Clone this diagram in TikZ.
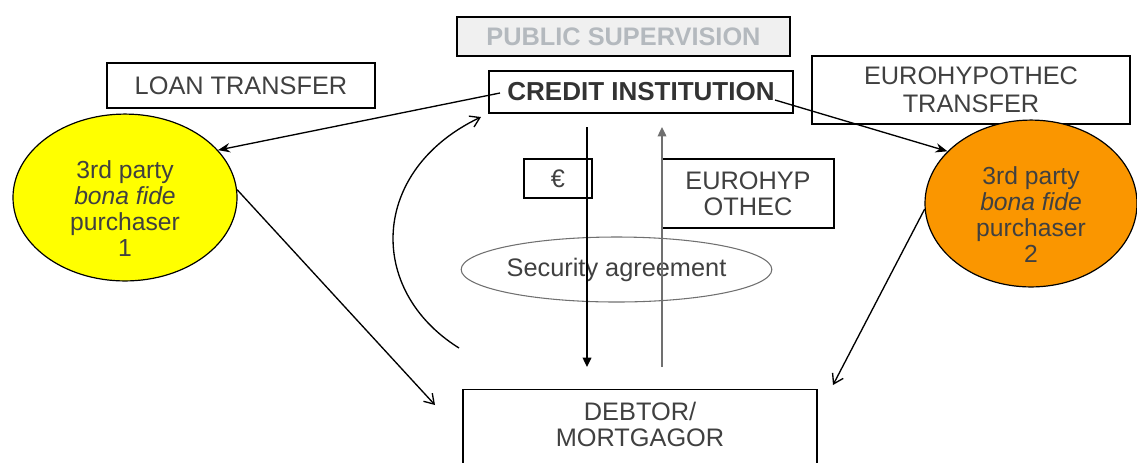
\documentclass[tikz,border=0pt]{standalone}
\usepackage{fontspec}
\setmainfont{Liberation Sans}
\usetikzlibrary{arrows.meta,shapes.geometric}
\definecolor{txt}{HTML}{404040}
\definecolor{psfill}{HTML}{F0F0F0}
\definecolor{pstxt}{HTML}{B4B9BE}
\definecolor{yel}{HTML}{FFFF00}
\definecolor{org}{HTML}{FA9600}
\definecolor{gline}{HTML}{707070}
\tikzset{
  box/.style={draw=black, line width=1pt, rectangle, inner sep=0pt, text=txt, align=center,
    font=\fontsize{19pt}{21pt}\selectfont},
  party/.style={draw=black, line width=0.9pt, ellipse, inner sep=0pt, text=txt, align=center,
    font=\fontsize{18.5pt}{19.5pt}\selectfont},
  conn/.style={line width=1pt, draw=black},
  filledhead/.style={conn, -{Stealth[length=9pt,width=7pt]}},
  openhead/.style={conn, -{Straight Barb[length=7pt,width=9pt]}},
  trihead/.style={conn, -{Triangle[length=7pt,width=6.5pt]}},
}
\begin{document}
\begin{tikzpicture}[x=0.75pt,y=-0.75pt]
\useasboundingbox (0,0) rectangle (1137,462);
\clip (0,0) rectangle (1137,462);

% boxes
\node[box, fill=psfill, text=pstxt, minimum width=249.75pt, minimum height=29.25pt,
  font=\fontsize{19pt}{20pt}\selectfont\bfseries] (ps) at (623.5,36.5) {PUBLIC SUPERVISION};
\node[box, text=black!80, minimum width=228pt, minimum height=31.5pt,
  font=\fontsize{19.5pt}{21pt}\selectfont\bfseries] (ci) at (641,92) {CREDIT INSTITUTION};
\node[box, minimum width=201pt, minimum height=33.75pt] (lt) at (241,85.5) {LOAN TRANSFER};
\node[box, minimum width=238.5pt, minimum height=51pt,
  font=\fontsize{19pt}{21pt}\selectfont] (et) at (971,90) {EUROHYPOTHEC\\TRANSFER};
\node[box, minimum width=51pt, minimum height=29.25pt] (eu) at (558,178.5) {€};
\node[box, minimum width=129pt, minimum height=51.75pt,
  font=\fontsize{19pt}{19.5pt}\selectfont] (eh) at (748,193.5) {EUROHYP\\OTHEC};
\node[box, anchor=north, minimum width=265.5pt, inner xsep=0pt, inner ysep=9pt,
  text depth=60pt, font=\fontsize{19pt}{19.5pt}\selectfont] (db) at (640,389) {DEBTOR/\\MORTGAGOR};

% ellipses
\node[party, fill=yel, minimum width=168pt, minimum height=108.75pt] (y1) at (125,197.5)
  {\rule{0pt}{30pt}3rd party\\\textit{bona fide}\\purchaser\\1};
\node[party, fill=org, minimum width=159pt, minimum height=107.25pt] (y2) at (1031,203.5)
  {\rule{0pt}{30pt}3rd party\\\textit{bona fide}\\purchaser\\2};
\node[ellipse, draw=gline, line width=0.8pt, inner sep=0pt, text=txt,
  minimum width=203.25pt, minimum height=48.75pt,
  font=\fontsize{19pt}{21pt}\selectfont] (sa) at (616.5,269.5) {Security agreement};

% free ends
\coordinate (ciL) at (500,93);
\coordinate (ciR) at (775,100);
\coordinate (dbL) at (435,405);
\coordinate (dbR) at (833,385);
\coordinate (curS) at (459,348);
\coordinate (curE) at (481,117);
\coordinate (dnS) at (587,127);
\coordinate (dnE) at (587,367);
\coordinate (upS) at (662,367);
\coordinate (upE) at (662,127);

% connectors
\draw[filledhead] (ciL) -- (y1.27);
\draw[filledhead] (ciR) -- (y2.148);
\draw[openhead] (y1.4) -- (dbL);
\draw[openhead] (y2.183) -- (dbR);
\draw[openhead] (curS) .. controls (366,290) and (370,170) .. (curE);
\draw[trihead] (dnS) -- (dnE);
\draw[trihead, draw=gline, fill=gline] (upS) -- (upE);
\end{tikzpicture}
\end{document}
